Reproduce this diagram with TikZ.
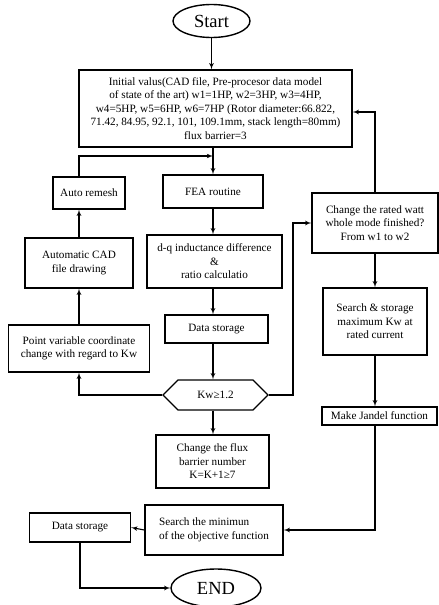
\documentclass[tikz,border=0pt]{standalone}
\usepackage{fontspec}
\setmainfont{Liberation Serif}
\usepackage{tikz}
\usetikzlibrary{arrows}
\usetikzlibrary{shapes.geometric,shapes.symbols}

\begin{document}
\begin{tikzpicture}[->,>=latex',x=1pt,y=-1pt,line width=1.1pt,
    box/.style={draw=black,line width=1.4pt,align=center,inner sep=1pt,font=\fontsize{11.2}{13.5}\selectfont},
    term/.style={draw=black,ellipse,line width=1.4pt,inner sep=0pt,font=\fontsize{18.5}{18.5}\selectfont},
    test/.style={draw=black,signal,signal to=west and east,signal pointer angle=90,line width=1.4pt,inner sep=0pt,font=\fontsize{11.2}{13.5}\selectfont}]

        \useasboundingbox (0,0) rectangle (439,605);

            % Start and initial values
            \node[term,minimum width=77,minimum height=33] (start) at (211.5,21) {Start};
            \node[box,minimum width=273,minimum height=77] (init) at (215.5,108.5) {Initial valus(CAD file, Pre-procesor data model\\ of state of the art) w1=1HP, w2=3HP, w3=4HP,\\ w4=5HP, w5=6HP, w6=7HP (Rotor diameter:66.822,\\ 71.42, 84.95, 92.1, 101, 109.1mm, stack length=80mm)\\ flux barrier=3};

            % Left column
            \node[box,minimum width=72,minimum height=32] (remesh) at (89,193) {Auto remesh};
            \node[box,minimum width=108,minimum height=50] (cad) at (79,263) {Automatic CAD\\ file drawing};
            \node[box,minimum width=141,minimum height=47] (point) at (79,348.5) {Point variable coordinate\\ change with regard to Kw};

            % Middle column
            \node[box,minimum width=100,minimum height=33] (fea) at (213,191.5) {FEA routine};
            \node[box,minimum width=135,minimum height=53] (dq) at (214.5,261.5) {d-q inductance difference\\ \&\\ ratio calculatio};
            \node[box,minimum width=103,minimum height=28] (store) at (216.5,329) {Data storage};
            \node[test,minimum width=105,minimum height=30] (kw) at (215.5,395) {Kw≥1.2};
            \node[box,minimum width=113,minimum height=53] (flux) at (212.5,461.5) {Change the flux\\ barrier number\\ K=K+1≥7};

            % Right column
            \node[box,minimum width=126,minimum height=60] (rated) at (375,223) {Change the rated watt\\ whole mode finished?\\ From w1 to w2};
            \node[box,minimum width=104,minimum height=67] (search) at (375,321.5) {Search \& storage\\ maximum Kw at\\ rated current};
            \node[box,minimum width=115,minimum height=18] (jandel) at (379.5,416) {Make Jandel function};

            % Bottom
            \node[box,minimum width=138,minimum height=50,align=left] (minimum) at (214,530) {Search the minimun\\ of the objective function};
            \node[box,minimum width=101,minimum height=29] (store2) at (80,527.5) {Data storage};
            \node[term,minimum width=90,minimum height=38] (end) at (216,588) {END};

            \coordinate (merge) at (213,156);

            % Arrows
            \draw (start.south) -- (start.south |- init.north);
            \draw (init.south -| fea) -- (fea.north);
            \draw (remesh.north -| cad) |- (merge);
            \draw (fea.south) -- (fea.south |- dq.north);
            \draw (dq.south -| fea) -- (fea |- store.north);
            \draw (store.south -| fea) -- (fea |- kw.north);
            \draw (kw.west) -| (point.south);
            \draw (point.north) -- (point.north |- cad.south);
            \draw (cad.north) -- (cad.north |- remesh.south);
            \draw (kw.south -| fea) -- (fea |- flux.north);
            \draw (kw.east) -- ++(24,0) |- (rated.west);
            \draw (rated.north) |- ([yshift=-3.5pt]init.east);
            \draw (rated.south) -- (search.north);
            \draw (search.south) -- (search.south |- jandel.north);
            \draw (jandel.south -| search) |- (minimum.east);
            \draw (minimum.west) -- (store2.east);
            \draw (store2.south) |- (end.west);

        \end{tikzpicture}
\end{document}
